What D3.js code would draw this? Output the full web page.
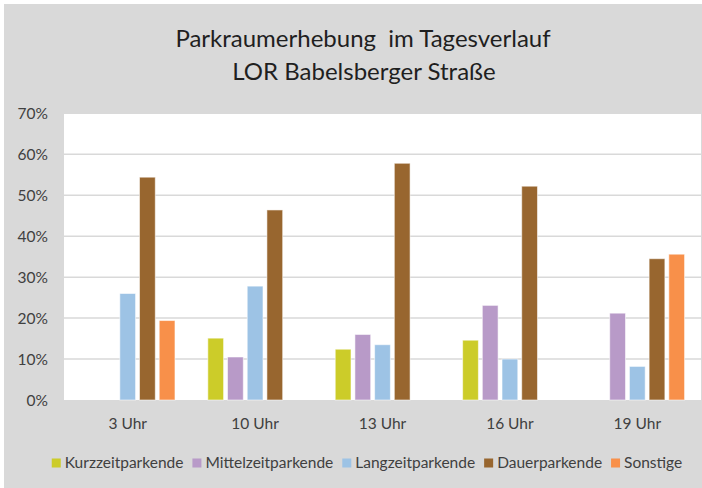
<!DOCTYPE html>
<html>
<head>
<meta charset="utf-8">
<script src="https://cdn.jsdelivr.net/npm/d3@7"></script>
<style>
  html, body { margin: 0; padding: 0; background: #ffffff; }
  svg { display: block; }
  text { font-family: Lato, "Open Sans", sans-serif; }
</style>
</head>
<body>
<svg id="chart" width="702" height="488"></svg>
<script>
// Survey times (x categories)
const times = ["3 Uhr", "10 Uhr", "13 Uhr", "16 Uhr", "19 Uhr"];

// Parker groups (series)
const groups = ["Kurzzeitparkende", "Mittelzeitparkende", "Langzeitparkende", "Dauerparkende", "Sonstige"];

// Share of each group per time (fraction of occupied spaces); 0 = not present
const kurzzeit   = [0.000, 0.151, 0.124, 0.146, 0.000];
const mittelzeit = [0.000, 0.105, 0.160, 0.231, 0.212];
const langzeit   = [0.260, 0.278, 0.135, 0.100, 0.082];
const dauer      = [0.544, 0.464, 0.578, 0.522, 0.345];
const sonstige   = [0.194, 0.000, 0.000, 0.000, 0.356];

const yTicks = [0, 0.1, 0.2, 0.3, 0.4, 0.5, 0.6, 0.7];

const colors = ["#cccc29", "#b89ac8", "#9dc3e5", "#98662f", "#f8904a"];
const seriesValues = [kurzzeit, mittelzeit, langzeit, dauer, sonstige];

const W = 702, H = 488;
const plot = { left: 64, right: 701, top: 113.3, bottom: 400 };

const svg = d3.select("#chart");

// Outer chart frame
svg.append("rect").attr("x", 4).attr("y", 4).attr("width", W - 4).attr("height", H - 4)
  .attr("fill", "#d9d9d9");

// Plot background
svg.append("rect")
  .attr("x", plot.left).attr("y", plot.top)
  .attr("width", plot.right - plot.left).attr("height", plot.bottom - plot.top)
  .attr("fill", "#ffffff");

const x0 = d3.scaleBand().domain(times).range([plot.left, plot.right])
  .paddingInner(0.227).paddingOuter(0.1135);
const x1 = d3.scaleBand().domain(groups).range([0, x0.bandwidth()])
  .paddingInner(0.2).paddingOuter(0.1);
const y = d3.scaleLinear().domain([0, 0.7]).range([plot.bottom, plot.top]);

// Horizontal gridlines
svg.append("g").selectAll("line").data(yTicks.filter(t => t > 0)).join("line")
  .attr("x1", plot.left).attr("x2", plot.right)
  .attr("y1", d => y(d)).attr("y2", d => y(d))
  .attr("stroke", "#d9d9d9").attr("stroke-width", 1.5);

// Y axis labels
const yAxis = d3.axisLeft(y).tickValues(yTicks).tickFormat(d3.format(".0%")).tickSize(0).tickPadding(0);
const gy = svg.append("g").attr("transform", `translate(48,0)`).call(yAxis);
gy.select(".domain").remove();
gy.selectAll("text").attr("font-size", 15.5).attr("fill", "#404040")
  .attr("font-family", "Lato, sans-serif").attr("dy", "0.34em");

// Bars
const rows = times.map((t, i) => ({ time: t, vals: groups.map((g, j) => ({ g, j, v: seriesValues[j][i] })) }));
const gBars = svg.append("g").selectAll("g").data(rows).join("g")
  .attr("transform", d => `translate(${x0(d.time)},0)`);
gBars.selectAll("rect").data(d => d.vals.filter(e => e.v > 0)).join("rect")
  .attr("x", d => x1(d.g))
  .attr("width", x1.bandwidth())
  .attr("y", d => y(d.v))
  .attr("height", d => y(0) - y(d.v))
  .attr("fill", d => colors[d.j])
  .attr("stroke", "#ffffff").attr("stroke-opacity", 0.55).attr("stroke-width", 1);

// X axis labels
const xAxis = d3.axisBottom(x0).tickSize(0).tickPadding(0);
const gx = svg.append("g").attr("transform", `translate(0,${plot.bottom})`).call(xAxis);
gx.select(".domain").remove();
gx.selectAll("text").attr("font-size", 15.5).attr("fill", "#404040")
  .attr("font-family", "Lato, sans-serif").attr("dy", null).attr("y", 29);

// Title (two lines, keeps the double space)
const title = svg.append("text").attr("text-anchor", "middle").attr("fill", "#1f1f1f")
  .attr("font-size", 24).style("white-space", "pre");
title.append("tspan").attr("x", 363).attr("y", 46.7).text("Parkraumerhebung  im Tagesverlauf");
title.append("tspan").attr("x", 364).attr("y", 80).text("LOR Babelsberger Straße");

// Legend, laid out left to right and centred under the plot
const legend = svg.append("g");
const items = legend.selectAll("g").data(groups).join("g");
items.append("rect").attr("width", 9).attr("height", 9).attr("y", -9.5)
  .attr("fill", (d, i) => colors[i]);
items.append("text").attr("x", 13).attr("font-size", 15.5).attr("fill", "#404040").text(d => d);
let cx = 0;
items.each(function () {
  const g = d3.select(this);
  g.attr("transform", `translate(${cx},0)`);
  cx += 13 + g.select("text").node().getComputedTextLength() + 9;
});
const totalW = cx - 9;
legend.attr("transform", `translate(${367 - totalW / 2},468)`);
</script>
</body>
</html>
